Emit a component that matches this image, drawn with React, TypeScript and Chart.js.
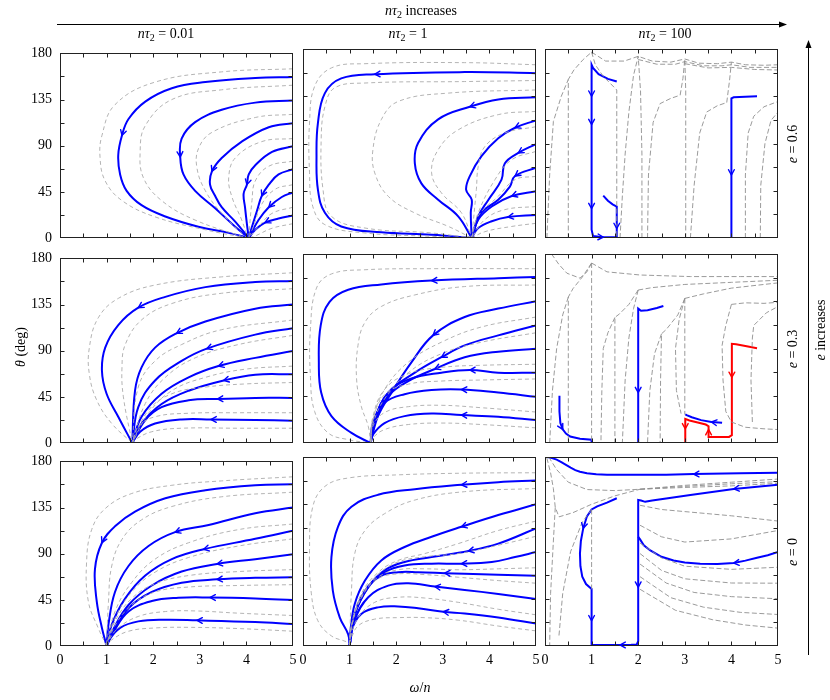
import React, { useEffect, useRef } from "react";
import { Chart, registerables } from "chart.js";
Chart.register(...registerables);

type Pt = [number, number];

// ---------- tick values ----------
const X_LABEL_TICKS = [0, 1, 2, 3, 4, 5];
const Y_LABEL_TICKS = [0, 45, 90, 135, 180];
const X_MARKS = [0.5, 1, 1.5, 2, 2.5, 3, 3.5, 4, 4.5];
const Y_MARKS = [22.5, 45, 67.5, 90, 112.5, 135, 157.5];

// ---------- row 1 (e = 0.6) ----------
const P11_BLUE: Pt[][] = [
  [[5,157],[4.19,156],[3.12,152],[2.4,146],[1.83,133],[1.47,116],[1.33,100],[1.25,81],[1.29,62],[1.43,46],[1.75,32],[2.26,21],[2.97,11],[3.62,5],[4.05,0]],
  [[5,134],[4.19,132],[3.47,125],[2.9,113],[2.61,97],[2.58,79],[2.65,62],[2.9,46],[3.33,29],[3.76,11],[4.05,0]],
  [[5,112],[4.48,108],[3.9,94],[3.47,78],[3.26,65],[3.22,52],[3.33,41],[3.47,30],[3.76,16],[4.05,0]],
  [[5,89.5],[4.55,84],[4.19,71],[4.05,62],[4.01,52],[3.94,43],[3.97,30],[4.01,14],[4.05,0]],
  [[5,67],[4.69,62],[4.48,52],[4.33,41],[4.23,27],[4.12,11],[4.05,0]],
  [[5,44.5],[4.76,40],[4.48,30],[4.26,17.5],[4.05,0]],
  [[5,22],[4.69,19],[4.4,15],[4.19,8],[4.05,0]],
];
const P11_ARROWS = [[6],[5],[4],[4],[3],[2],[2]];
const P11_GRAY: Pt[][] = [
  [[5,165],[3.47,162],[2.04,152],[1.18,130],[0.9,100],[0.86,78],[0.97,55.6],[1.33,36.5],[2.04,20.6],[3.12,8],[4.01,0]],
  [[5,149],[3.47,144.5],[2.4,135],[1.83,109.5],[1.72,84],[1.79,58.7],[2.18,36.5],[2.9,17.5],[4.01,0]],
  [[5,120.6],[4.19,117.5],[3.26,103],[2.97,87],[2.94,68],[3.12,46],[3.47,24],[4.01,0]],
  [[5,97],[4.33,94],[3.76,78],[3.62,59],[3.69,40],[3.9,17.5],[4.03,0]],
  [[5,75],[4.48,70],[4.19,55.6],[4.12,36.5],[4.05,0]],
  [[5,52],[4.62,47.6],[4.33,33],[4.15,11],[4.05,0]],
  [[5,30],[4.55,24],[4.26,11],[4.05,0]],
  [[5,14],[4.55,9.5],[4.19,2],[4.05,0]],
];

const P12_BLUE: Pt[][] = [
  [[5,157],[3.47,158],[1.54,156],[0.82,152],[0.47,138],[0.32,109.5],[0.29,78],[0.32,46],[0.47,24],[0.82,11],[1.68,5.4],[2.76,3.2],[3.62,0]],
  [[5,134],[4.19,132],[3.58,125],[2.9,113],[2.47,90.5],[2.4,71],[2.54,52],[2.9,36.5],[3.33,20.6],[3.62,0]],
  [[5,112],[4.55,105],[4.19,95],[3.83,78],[3.58,59],[3.5,46],[3.62,36.5],[3.6,24],[3.62,0]],
  [[5,89.5],[4.62,81],[4.33,71],[4.26,55.6],[3.98,36.5],[3.76,20.6],[3.62,0]],
  [[5,67],[4.55,59],[4.44,49],[4.19,36.5],[3.83,24],[3.62,0]],
  [[5,44.5],[4.48,40],[4.05,30],[3.76,17.5],[3.62,0]],
  [[5,22],[4.4,20],[4.05,16],[3.76,9.5],[3.62,0]],
];
const P12_ARROWS = [[2],[2],[1],[1],[1],[1],[1]];
const P12_GRAY: Pt[][] = [
  [[5,165],[3.47,167],[1.33,166],[0.61,162],[0.25,144.5],[0.14,109.5],[0.14,62],[0.21,30],[0.47,12.7],[1.33,4.8],[2.76,1.6],[3.62,0]],
  [[5,150],[3.47,149],[1.33,147.6],[0.68,143],[0.47,125],[0.39,94],[0.43,46],[0.61,20.6],[1.33,9.5],[2.76,4.8],[3.62,0]],
  [[5,141],[3.12,138],[2.04,130],[1.68,112.7],[1.5,84],[1.54,62],[1.83,39.7],[2.4,23.8],[3.12,11],[3.62,0]],
  [[5,120.6],[4.19,117.5],[3.33,103],[2.9,84],[2.76,62],[2.97,43],[3.4,24],[3.62,0]],
  [[5,106],[4.33,100],[3.9,87],[3.76,68],[3.72,46],[3.62,0]],
  [[5,82.5],[4.48,74.6],[4.12,55.6],[3.76,24],[3.62,0]],
  [[5,58.7],[4.55,55.6],[4.19,39.7],[3.76,21],[3.62,0]],
  [[5,30],[4.33,27],[3.9,17.5],[3.62,0]],
  [[5,14],[4.48,11],[3.9,6],[3.62,0]],
];

const P13_BLUE: Pt[][] = [
  [[1.54,149],[1.35,151.5],[1.15,156],[1.03,162],[1.0,165],[1.0,135],[1.0,108],[1.0,60],[1.0,28],[1.0,8],[1.03,2],[1.25,0.8],[1.54,0.8]],
  [[1.25,40.3],[1.35,35.5],[1.45,32],[1.54,30],[1.54,15],[1.54,9],[1.54,1]],
  [[4.55,135],[4.3,134.5],[4.05,134],[4.0,133],[4.0,100],[4.0,60],[4.0,30],[4.0,0]],
];
const P13_ARROWS = [[5,6,8,11],[5],[5]];
const P13_GRAY: Pt[][] = [
  [[0.04,0],[0.1,60],[0.18,111],[0.35,135],[0.5,151]],
  [[0.5,0],[0.5,100],[0.5,151],[0.62,160],[0.82,170],[1.0,177]],
  [[1.0,177],[1.08,165],[1.25,154],[1.54,141],[1.54,70],[1.54,0]],
  [[1.61,0],[1.66,40],[1.72,80],[1.8,120],[1.9,155],[2.0,173]],
  [[2.08,0],[2.08,80],[2.05,140],[2.0,173]],
  [[2.2,0],[2.22,60],[2.32,110],[2.47,128],[2.7,133],[2.9,136]],
  [[2.9,136],[2.96,152],[3.0,170.5]],
  [[3.02,0],[3.02,80],[3.02,140],[3.0,170.5]],
  [[3.12,0],[3.2,50],[3.32,100],[3.47,120],[3.7,126],[3.9,129]],
  [[3.9,129],[3.96,150],[4.0,167.5]],
  [[4.3,0],[4.3,60],[4.36,100],[4.48,116],[4.7,125],[5,130]],
  [[4.62,0],[4.63,50],[4.72,90],[4.85,112],[5,120]],
  [[1.0,177],[1.3,168.5],[1.7,168.5],[2.0,173],[2.3,168.5],[2.7,167.5],[3.0,170.5],[3.3,166.5],[3.7,166],[4.0,167.5],[4.3,165],[4.7,164.5],[5,165]],
  [[2.0,170],[2.4,165.5],[2.8,165.5],[3.0,168],[3.4,164],[3.8,164],[4.0,165],[4.4,162.5],[5,162.5]],
  [[3.0,166],[3.5,162],[4.0,162.5],[4.5,160.5],[5,160]],
];

// ---------- row 2 (e = 0.3) ----------
const P21_BLUE: Pt[][] = [
  [[5,158],[4.19,157],[3.12,152],[2.26,142.5],[1.68,132],[1.25,115],[0.97,93],[0.9,70.5],[1.0,48],[1.25,25.6],[1.55,0]],
  [[5,135],[4.19,131],[3.12,118.5],[2.5,107],[2.04,93],[1.75,73.7],[1.61,51],[1.55,0]],
  [[5,112],[4.19,105.7],[3.15,92],[2.61,80],[2.04,61],[1.68,35],[1.55,0]],
  [[5,89.7],[4.19,83],[3.4,75],[2.76,64],[2.18,48],[1.75,25.6],[1.55,0]],
  [[5,67],[4.19,66.6],[3.51,61],[2.76,51],[2.18,38],[1.75,19],[1.55,0]],
  [[5,44],[4.19,44],[3.38,43],[2.76,41.6],[2.18,35],[1.83,22.4],[1.55,0]],
  [[5,21.8],[4.19,22.4],[3.24,23],[2.61,23],[2.04,19],[1.72,11],[1.55,0]],
];
const P21_ARROWS = [[4],[3],[2],[2],[2],[2],[2]];
const P21_GRAY: Pt[][] = [
  [[5,166],[3.47,162],[2.04,154],[1.25,141],[0.82,122],[0.63,93],[0.63,67],[0.79,41.6],[1.11,19],[1.55,0]],
  [[5,150.5],[3.47,146],[2.4,136],[1.75,120],[1.4,96],[1.33,73.7],[1.36,45],[1.55,0]],
  [[5,120],[3.47,110.5],[2.61,96],[2.04,80],[1.68,54.5],[1.55,0]],
  [[5,105],[3.83,96],[2.9,83],[2.26,64],[1.83,38.4],[1.55,0]],
  [[5,75],[3.98,72],[3.12,64],[2.4,51],[1.9,29],[1.55,0]],
  [[5,59],[3.98,57.6],[3.12,54.5],[2.4,48],[1.9,32],[1.55,0]],
  [[5,29.5],[3.83,29.5],[2.76,29],[2.04,25.6],[1.68,16],[1.55,0]],
  [[5,14.4],[3.83,14.4],[2.61,14.4],[1.97,11],[1.6,3],[1.55,0]],
];

const P22_BLUE: Pt[][] = [
  [[5,158],[4.19,157],[2.76,154.7],[1.68,151],[0.97,146],[0.57,134.5],[0.38,112],[0.34,77],[0.39,48],[0.61,25.6],[1.04,9.6],[1.45,0]],
  [[5,135],[4.19,128],[3.47,120],[2.79,102.5],[2.33,77],[1.9,48],[1.61,25.6],[1.45,0]],
  [[5,112],[4.19,102.5],[3.47,93],[2.97,81.7],[2.4,67],[1.83,48],[1.54,22.4],[1.45,0]],
  [[5,89.7],[4.19,87],[3.47,81.7],[2.83,70.5],[2.26,59],[1.83,45],[1.55,22],[1.45,0]],
  [[5,67],[4.19,67],[3.58,69.5],[2.97,67],[2.33,61.5],[1.83,48],[1.54,22],[1.45,0]],
  [[5,44],[4.19,48],[3.4,51],[2.76,50.5],[2.18,46.5],[1.75,38.4],[1.5,19],[1.45,0]],
  [[5,21.8],[4.19,25],[3.4,26.6],[2.76,28],[2.18,25.6],[1.75,19],[1.5,8],[1.45,0]],
];
const P22_ARROWS = [[2],[3],[3],[3],[2],[2],[2]];
const P22_GRAY: Pt[][] = [
  [[5,166],[2.76,166],[1.33,165],[0.61,161],[0.29,147.6],[0.16,109],[0.16,62.5],[0.25,30],[0.54,9.6],[0.97,3.2],[1.45,0]],
  [[5,150.5],[3.47,149],[2.4,141],[1.68,130],[1.33,115],[1.18,93],[1.15,61],[1.25,35],[1.4,16],[1.45,0]],
  [[5,120],[3.83,110.5],[2.97,96],[2.26,77],[1.75,51],[1.5,22],[1.45,0]],
  [[5,105],[3.83,96],[2.97,85],[2.26,67],[1.75,42],[1.5,18],[1.45,0]],
  [[5,75],[3.83,74],[2.97,72],[2.26,66],[1.75,51],[1.5,25],[1.45,0]],
  [[5,61],[3.83,60],[2.97,59],[2.26,56],[1.75,46],[1.5,22],[1.45,0]],
  [[5,29.5],[3.83,33.6],[2.97,35.9],[2.26,34.6],[1.75,29],[1.5,16],[1.45,0]],
  [[5,14.4],[3.83,17.6],[2.97,19],[2.26,17.6],[1.75,12.8],[1.5,5],[1.45,0]],
];

const P23_BLUE: Pt[][] = [
  [[0.31,45],[0.31,30],[0.33,19],[0.38,13],[0.45,9],[0.54,6.2],[0.75,4],[1.0,3.2],[1.0,0]],
  [[2.54,130.5],[2.4,128.5],[2.2,126.5],[2.06,126],[2.0,128],[2.0,90],[2.0,48],[2.0,20],[2.0,0]],
  [[3.8,19.2],[3.57,20],[3.35,21.8],[3.15,24.5],[3.04,26.5],[3.01,27.2]],
];
const P23_ARROWS = [[3],[6],[1]];
const P23_RED: Pt[][] = [
  [[4.55,90.3],[4.3,92.3],[4.1,94],[4.01,94.5],[4.01,80],[4.01,62.5],[4.01,30],[4.01,7.5],[3.95,5.8],[3.7,5.8],[3.51,5.8],[3.51,9],[3.51,12.8],[3.51,16],[3.45,17.6],[3.3,19.3],[3.1,21.5],[3.01,23],[3.01,18],[3.01,13.5],[3.01,6],[3.01,0]],
];
const P23_RED_ARROWS = [[5,12,19]];
const P23_GRAY: Pt[][] = [
  [[0.14,180],[0.3,170],[0.47,161.7],[0.75,157],[0.9,163],[1.0,171.4]],
  [[1.0,171.4],[1.33,163],[2.04,160],[3.12,158.5],[4.2,158.5],[5,158.5]],
  [[2.0,145.7],[2.3,148],[3.0,151],[4.0,153],[5,155]],
  [[3.0,137.7],[3.4,142],[4.0,147.5],[5,152.5]],
  [[4.0,132],[4.3,133.5],[4.7,133],[5,134]],
  [[1.0,171.4],[0.8,158],[0.6,147],[0.5,139],[0.5,100],[0.5,0]],
  [[0.5,139],[0.38,122],[0.25,90],[0.16,50],[0.1,0]],
  [[1.0,171.4],[1.0,100],[1.0,0]],
  [[2.0,145.7],[1.8,132],[1.6,123],[1.5,119.6],[1.5,60],[1.5,0]],
  [[1.5,119.6],[1.35,105],[1.25,90],[1.22,50],[1.2,0]],
  [[2.0,145.7],[1.9,128],[1.8,100],[1.72,60],[1.66,0]],
  [[3.0,137.7],[2.85,122],[2.6,108],[2.5,104],[2.48,60],[2.47,0]],
  [[2.5,104],[2.35,85],[2.25,50],[2.2,0]],
  [[3.0,137.7],[3.0,80],[3.0,27]],
  [[3.0,137.7],[2.88,118],[2.8,90],[2.82,50],[2.92,28]],
  [[4.0,132],[3.88,112],[3.8,93],[3.82,60],[3.88,30],[4.0,20],[4.3,15],[4.7,13.5],[5,12.8]],
  [[4.45,20],[4.42,60],[4.45,100],[4.48,112],[4.75,124],[5,130]],
];

// ---------- row 3 (e = 0) ----------
const P31_BLUE: Pt[][] = [
  [[5,157.6],[4.19,156.7],[3.12,151.9],[2.26,144],[1.61,131],[1.18,116.7],[0.9,100.7],[0.75,75],[0.79,43],[0.9,17.6],[1.0,0]],
  [[5,135],[4.19,129.5],[3.19,118],[2.47,111],[1.9,97.5],[1.47,78],[1.18,52.7],[1.04,20.8],[1.0,0]],
  [[5,112.5],[4.19,104.5],[3.08,94.3],[2.4,84.7],[1.83,68.7],[1.4,46.4],[1.11,20.8],[1.0,0]],
  [[5,89.5],[4.19,84.7],[3.37,80],[2.61,72.6],[1.97,59],[1.47,40],[1.13,15],[1.0,0]],
  [[5,67],[4.19,66.5],[3.37,65],[2.61,61.7],[1.97,52.7],[1.47,36.8],[1.14,14],[1.0,0]],
  [[5,44.8],[4.19,46.4],[3.22,47.3],[2.54,47],[1.97,43.8],[1.47,33.6],[1.14,13],[1.0,0]],
  [[5,21.4],[4.19,23.3],[2.94,25],[2.26,25.6],[1.68,24],[1.29,17.6],[1.04,5],[1.0,0]],
];
const P31_ARROWS = [[6],[3],[2],[2],[2],[2],[2]];
const P31_GRAY: Pt[][] = [
  [[5,165],[3.47,161],[2.4,156.7],[1.54,148.7],[0.97,134],[0.68,113.5],[0.57,81.5],[0.61,43],[0.82,17.6],[1.0,0]],
  [[5,150],[3.47,145.5],[2.4,136],[1.75,123],[1.33,104],[1.11,78],[1.04,43],[1.0,0]],
  [[5,119],[3.83,113.5],[2.76,100.7],[2.04,84.7],[1.54,62],[1.18,33.6],[1.0,0]],
  [[5,104.5],[3.83,97.5],[2.76,86.3],[2.04,72],[1.54,52.7],[1.18,27],[1.0,0]],
  [[5,74.5],[3.83,72.6],[2.76,68.7],[2.04,60.7],[1.54,46.4],[1.18,24],[1.0,0]],
  [[5,59.8],[3.83,59],[2.76,57.5],[2.04,52.7],[1.54,40],[1.18,20],[1.0,0]],
  [[5,29.7],[3.83,32],[2.9,34.2],[2.26,33.6],[1.68,28.8],[1.25,17.6],[1.04,5],[1.0,0]],
  [[5,14.4],[3.83,17],[2.76,18.2],[2.04,17.6],[1.47,14.4],[1.11,6],[1.0,0]],
];

const P32_BLUE: Pt[][] = [
  [[5,157.6],[4.19,156],[3.4,153.5],[2.4,149.3],[1.61,144],[1.04,132.7],[0.75,113.5],[0.61,84.7],[0.64,52.7],[0.79,27],[0.97,11],[1.0,0]],
  [[5,135],[4.19,124.7],[3.4,113.5],[2.76,104],[2.18,94.3],[1.68,81.5],[1.33,62.3],[1.11,40],[1.02,15],[1.0,0]],
  [[5,112],[4.19,97.5],[3.55,90.5],[2.76,84.7],[2.18,80],[1.75,72],[1.4,56],[1.11,30],[1.0,0]],
  [[5,89.5],[4.55,84.7],[4.05,80],[3.4,78.4],[2.76,78.4],[2.18,76.7],[1.75,70.3],[1.4,56],[1.11,30],[1.0,0]],
  [[5,67],[4.19,67.8],[3.47,68.7],[3.04,69.4],[2.47,70.3],[2.04,70.3],[1.68,67],[1.33,52.7],[1.08,25],[1.0,0]],
  [[5,44.8],[4.19,49.6],[3.47,53.4],[2.83,56.6],[2.26,59.8],[1.83,57.5],[1.4,46.4],[1.11,25],[1.0,0]],
  [[5,21.4],[4.19,27.2],[3.47,31],[3.01,32.6],[2.47,36],[2.04,37.7],[1.61,36.8],[1.25,30.4],[1.04,15],[1.0,0]],
];
const P32_ARROWS = [[2],[2],[2],[3],[3],[3],[3]];
const P32_GRAY: Pt[][] = [
  [[5,165],[3.47,164.6],[2.04,163],[0.97,160],[0.47,152],[0.21,132.7],[0.14,91],[0.18,49.6],[0.32,24],[0.61,9.6],[0.97,3.2],[1.0,0]],
  [[5,150],[3.47,147],[2.4,139],[1.75,126],[1.33,110],[1.11,88],[1.04,52.7],[1.0,0]],
  [[5,119],[4.19,110],[3.33,97.5],[2.61,88],[2.04,81.5],[1.61,70],[1.25,49.6],[1.04,20],[1.0,0]],
  [[5,104.5],[4.19,96],[3.33,88],[2.61,85],[2.04,80],[1.61,68],[1.25,46],[1.04,18],[1.0,0]],
  [[5,74.5],[4.19,73.5],[3.33,72.6],[2.61,73.5],[2.04,72.6],[1.61,65.5],[1.25,48],[1.04,18],[1.0,0]],
  [[5,59.8],[4.19,62.3],[3.33,65.5],[2.61,68],[2.04,68.7],[1.61,64],[1.25,46],[1.04,18],[1.0,0]],
  [[5,29.7],[4.19,35],[3.33,41.6],[2.61,45.7],[2.04,46.4],[1.54,41.6],[1.18,27],[1.02,8],[1.0,0]],
  [[5,14.4],[4.19,19],[3.33,24.6],[2.61,27],[2.04,27],[1.54,25.6],[1.18,19],[1.02,5],[1.0,0]],
];

const P33_BLUE: Pt[][] = [
  [[5,165],[4.19,164.6],[3.19,163.7],[2.6,163.2],[2.04,163],[1.6,163],[1.33,163.2],[1.1,163.6],[0.9,164.5],[0.75,166],[0.65,167.5],[0.55,169.8],[0.45,172.5],[0.35,175.2],[0.25,177.5],[0.15,179],[0.05,180]],
  [[5,153.5],[4.05,149.6],[3.12,143.9],[2.6,140.5],[2.3,138.5],[2.15,137.3],[2.06,138.5],[2.0,139],[2.0,100],[2.0,56],[2.0,20],[2.0,4.5],[1.97,1.5],[1.85,1.1],[1.61,1],[1.3,1],[1.0,1]],
  [[1.54,140.7],[1.33,136.5],[1.12,133],[1.0,130],[0.9,123.5],[0.82,112],[0.77,100],[0.75,88],[0.76,76],[0.8,66],[0.88,59],[1.0,54.3],[1.0,40],[1.0,24],[1.0,10],[1.0,1]],
  [[5,89.5],[4.78,86.5],[4.55,84],[4.3,81.3],[4.05,79],[3.7,78.2],[3.33,78.4],[3.0,79.5],[2.76,81.5],[2.5,85],[2.26,91],[2.12,96],[2.04,101.5],[2.0,104]],
];
const P33_ARROWS = [[2],[1,9,14],[5,13],[4]];
const P33_GRAY: Pt[][] = [
  [[0.04,179],[0.12,165],[0.18,150],[0.22,132],[0.3,123],[0.6,127],[1.0,135],[1.5,143],[2.04,149.3]],
  [[0.08,180],[0.25,168],[0.5,156],[0.9,149],[1.5,148],[2.04,149.3]],
  [[0.22,132],[0.18,100],[0.12,50],[0.1,0]],
  [[0.3,10],[0.38,50],[0.55,90],[0.8,118],[1.0,130]],
  [[1.0,130],[1.0,90],[1.0,54]],
  [[2.04,149.3],[3,153],[4,156],[5,159]],
  [[2.04,149.3],[3,152],[4,154.5],[5,156.5]],
  [[2.04,149.3],[3,151],[4,152.5],[5,155]],
  [[2.04,134],[2.5,130],[3.0,128],[4.0,124],[5,119]],
  [[2.04,115],[2.5,104],[3.0,99],[4.0,102],[5,110]],
  [[2.04,98],[2.5,84],[3.0,76],[4.0,73],[5,75]],
  [[2.04,88],[2.5,72],[3.0,64],[4.0,60],[5,59.8]],
  [[2.04,78],[2.6,60],[3.2,51],[4.0,47],[5,45]],
  [[2.04,66],[2.7,46],[3.4,37],[4.2,32],[5,30]],
  [[2.04,54],[2.8,34],[3.6,25],[4.3,20],[5,17]],
];

// ---------- labels ----------
const COL_TITLES = ["0.01", "1", "100"];
const ROW_TITLES = ["0.6", "0.3", "0"];

type PanelDef = {
  row: number; col: number;
  blue: Pt[][]; arrows: number[][];
  gray: Pt[][];
  red?: Pt[][]; redArrows?: number[][];
};

const PANELS: PanelDef[] = [
  { row: 0, col: 0, blue: P11_BLUE, arrows: P11_ARROWS, gray: P11_GRAY },
  { row: 0, col: 1, blue: P12_BLUE, arrows: P12_ARROWS, gray: P12_GRAY },
  { row: 0, col: 2, blue: P13_BLUE, arrows: P13_ARROWS, gray: P13_GRAY },
  { row: 1, col: 0, blue: P21_BLUE, arrows: P21_ARROWS, gray: P21_GRAY },
  { row: 1, col: 1, blue: P22_BLUE, arrows: P22_ARROWS, gray: P22_GRAY },
  { row: 1, col: 2, blue: P23_BLUE, arrows: P23_ARROWS, gray: P23_GRAY, red: P23_RED, redArrows: P23_RED_ARROWS },
  { row: 2, col: 0, blue: P31_BLUE, arrows: P31_ARROWS, gray: P31_GRAY },
  { row: 2, col: 1, blue: P32_BLUE, arrows: P32_ARROWS, gray: P32_GRAY },
  { row: 2, col: 2, blue: P33_BLUE, arrows: P33_ARROWS, gray: P33_GRAY },
];

// ---------- layout / style ----------
const COL_LEFT = [60, 303, 545];
const ROW_TOP = [49, 254, 457];
const PW = 233;
const PH = 189;
const PADL = 44, PADR = 12, PADT = 12, PADB = 30;
const SERIF = '"Liberation Serif", "Times New Roman", serif';
const BLUE = "#0000ff";
const RED = "#ff0000";

const toXY = (pts: Pt[]) => pts.map(([x, y]) => ({ x, y }));

const framePlugin = {
  id: "frameTicks",
  afterDatasetsDraw(chart: any) {
    const { ctx, chartArea: a, scales } = chart;
    ctx.save();
    ctx.strokeStyle = "#222";
    ctx.lineWidth = 1;
    const L = Math.round(a.left) + 0.5, R = Math.round(a.right) - 0.5;
    const T = Math.round(a.top) + 0.5, B = Math.round(a.bottom) - 0.5;
    ctx.strokeRect(L, T, R - L, B - T);
    ctx.beginPath();
    X_MARKS.forEach((v) => {
      const x = Math.round(scales.x.getPixelForValue(v)) + 0.5;
      ctx.moveTo(x, B); ctx.lineTo(x, B - 4);
      ctx.moveTo(x, T); ctx.lineTo(x, T + 4);
    });
    Y_MARKS.forEach((v) => {
      const y = Math.round(scales.y.getPixelForValue(v)) + 0.5;
      ctx.moveTo(L, y); ctx.lineTo(L + 4, y);
      ctx.moveTo(R, y); ctx.lineTo(R - 4, y);
    });
    ctx.stroke();
    ctx.restore();
  },
};

const arrowPlugin = {
  id: "flowArrows",
  afterDatasetsDraw(chart: any) {
    const { ctx } = chart;
    chart.data.datasets.forEach((ds: any, i: number) => {
      const idx: number[] | undefined = ds.arrowIdx;
      if (!idx || !idx.length) return;
      const pts = chart.getDatasetMeta(i).data;
      idx.forEach((k) => {
        const p = pts[k];
        const a = pts[Math.max(0, k - 1)];
        const b = pts[Math.min(pts.length - 1, k + 1)];
        const ang = Math.atan2(b.y - a.y, b.x - a.x);
        const len = 6, spread = 0.5;
        ctx.save();
        ctx.strokeStyle = ds.borderColor;
        ctx.lineWidth = 1.4;
        ctx.lineCap = "round";
        ctx.beginPath();
        ctx.moveTo(p.x - len * Math.cos(ang - spread), p.y - len * Math.sin(ang - spread));
        ctx.lineTo(p.x, p.y);
        ctx.lineTo(p.x - len * Math.cos(ang + spread), p.y - len * Math.sin(ang + spread));
        ctx.stroke();
        ctx.restore();
      });
    });
  },
};

function Panel({ p }: { p: PanelDef }) {
  const ref = useRef<HTMLCanvasElement>(null);
  useEffect(() => {
    if (!ref.current) return;
    const showY = p.col === 0;
    const showX = p.row === 2;
    const tension = p.col === 2 ? 0 : 0.4;
    const grayColor = p.col === 2 ? "#8f8f8f" : "#ababab";
    const grayDash = p.col === 2 ? [5, 2.5] : [4, 3];
    const datasets: any[] = [];
    p.gray.forEach((pts) =>
      datasets.push({
        data: toXY(pts), showLine: true, borderColor: grayColor, borderWidth: 0.9,
        borderDash: grayDash, pointRadius: 0, tension, fill: false,
      })
    );
    p.blue.forEach((pts, i) =>
      datasets.push({
        data: toXY(pts), showLine: true, borderColor: BLUE, borderWidth: 2,
        pointRadius: 0, tension, fill: false, arrowIdx: p.arrows[i],
      })
    );
    (p.red || []).forEach((pts, i) =>
      datasets.push({
        data: toXY(pts), showLine: true, borderColor: RED, borderWidth: 2,
        pointRadius: 0, tension, fill: false, arrowIdx: (p.redArrows || [])[i],
      })
    );
    const font = { family: SERIF, size: 14 };
    const chart = new Chart(ref.current, {
      type: "scatter",
      data: { datasets },
      options: {
        animation: false,
        responsive: false,
        devicePixelRatio: 1,
        events: [],
        layout: {
          padding: { left: showY ? 0 : PADL, right: PADR, top: PADT, bottom: showX ? 0 : PADB },
        },
        plugins: { legend: { display: false }, tooltip: { enabled: false } },
        scales: {
          x: {
            type: "linear", min: 0, max: 5, display: showX,
            grid: { display: false, drawTicks: false },
            border: { display: false },
            afterBuildTicks: (s: any) => { s.ticks = X_LABEL_TICKS.map((v) => ({ value: v })); },
            ticks: { padding: 6, font, color: "#000", maxRotation: 0, autoSkip: false },
            afterFit: (s: any) => { s.height = showX ? PADB : 0; },
          },
          y: {
            type: "linear", min: 0, max: 180, display: showY,
            grid: { display: false, drawTicks: false },
            border: { display: false },
            afterBuildTicks: (s: any) => { s.ticks = Y_LABEL_TICKS.map((v) => ({ value: v })); },
            ticks: { padding: 8, font, color: "#000", autoSkip: false },
            afterFit: (s: any) => { s.width = showY ? PADL : 0; },
          },
        },
      } as any,
      plugins: [framePlugin, arrowPlugin],
    });
    return () => chart.destroy();
  }, [p]);
  return (
    <canvas
      ref={ref}
      width={PW + PADL + PADR}
      height={PH + PADT + PADB}
      style={{ position: "absolute", left: COL_LEFT[p.col] - PADL, top: ROW_TOP[p.row] - PADT }}
    />
  );
}

const textBase: React.CSSProperties = {
  position: "absolute",
  fontFamily: SERIF,
  fontSize: 14,
  color: "#000",
  whiteSpace: "nowrap",
  lineHeight: 1,
};

function Sub({ children }: { children: React.ReactNode }) {
  return <span style={{ fontSize: 10, position: "relative", top: 3 }}>{children}</span>;
}

export default function App() {
  const titleX = [166, 408, 665];
  const rowY = ROW_TOP.map((t) => t + PH / 2);
  return (
    <div style={{ position: "absolute", left: 0, top: 0, width: 830, height: 700, background: "#fff" }}>
      {PANELS.map((p, i) => (
        <Panel key={i} p={p} />
      ))}
      <div style={{ ...textBase, left: 421, top: 11, transform: "translate(-50%,-50%)" }}>
        <i>nτ</i><Sub>2</Sub> increases
      </div>
      {COL_TITLES.map((t, i) => (
        <div key={t} style={{ ...textBase, left: titleX[i], top: 34, transform: "translate(-50%,-50%)" }}>
          <i>nτ</i><Sub>2</Sub> = {t}
        </div>
      ))}
      {ROW_TITLES.map((t, i) => (
        <div key={t} style={{ ...textBase, left: 793, top: rowY[i], transform: "translate(-50%,-50%) rotate(-90deg)" }}>
          <i>e</i> = {t}
        </div>
      ))}
      <div style={{ ...textBase, left: 821, top: 330, transform: "translate(-50%,-50%) rotate(-90deg)" }}>
        <i>e</i> increases
      </div>
      <div style={{ ...textBase, left: 21, top: 347, transform: "translate(-50%,-50%) rotate(-90deg)" }}>
        <i>θ</i> (deg)
      </div>
      <div style={{ ...textBase, left: 420, top: 688, transform: "translate(-50%,-50%)" }}>
        <i>ω</i>/<i>n</i>
      </div>
      <svg width={830} height={700} style={{ position: "absolute", left: 0, top: 0, pointerEvents: "none" }}>
        <line x1={57} y1={24.5} x2={782} y2={24.5} stroke="#000" strokeWidth={1} />
        <polygon points="787,24.5 779,21.5 779,27.5" fill="#000" />
        <line x1={808.5} y1={655} x2={808.5} y2={45} stroke="#000" strokeWidth={1} />
        <polygon points="808.5,40 805.5,48 811.5,48" fill="#000" />
      </svg>
    </div>
  );
}
